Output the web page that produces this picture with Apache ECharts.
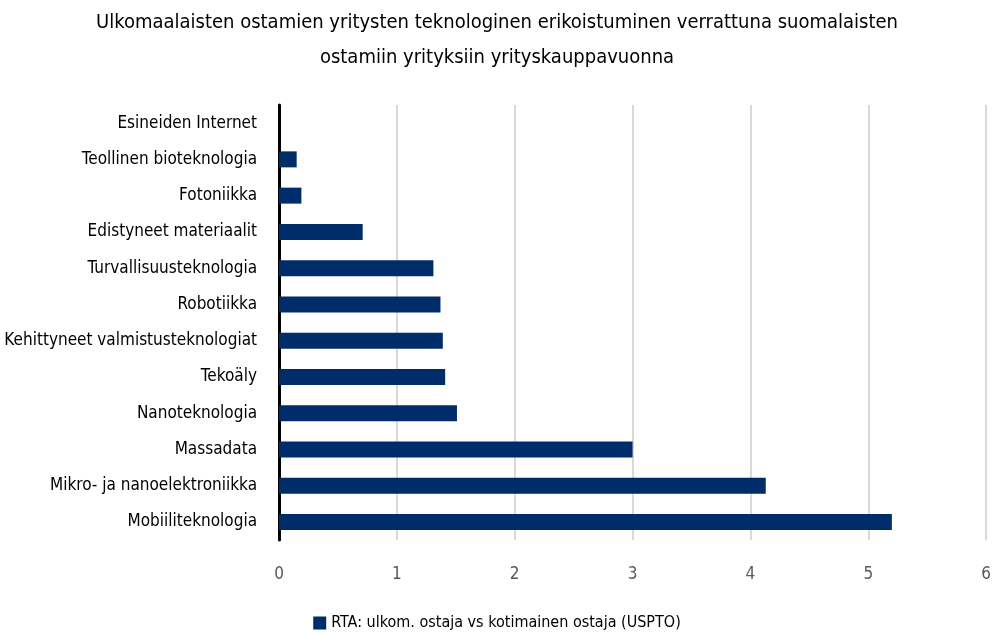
<!DOCTYPE html>
<html>
<head>
<meta charset="utf-8">
<script src="https://cdn.jsdelivr.net/npm/echarts@6/dist/echarts.min.js"></script>
<style>
    html, body {margin: 0; padding: 0; background: #fff;}
    #chart {width: 994px; height: 636px;}
</style>
</head>
<body>
<div id="chart"></div>
<script>
// categories bottom-to-top (ECharts category axis starts at the bottom)
const categories = [
    'Mobiiliteknologia',
    'Mikro- ja nanoelektroniikka',
    'Massadata',
    'Nanoteknologia',
    'Tekoäly',
    'Kehittyneet valmistusteknologiat',
    'Robotiikka',
    'Turvallisuusteknologia',
    'Edistyneet materiaalit',
    'Fotoniikka',
    'Teollinen bioteknologia',
    'Esineiden Internet'
];
const rtaValues = [5.2, 4.13, 3.0, 1.51, 1.41, 1.39, 1.37, 1.31, 0.71, 0.19, 0.15, 0];
const seriesName = 'RTA: ulkom. ostaja vs kotimainen ostaja (USPTO)';
const titleText = 'Ulkomaalaisten ostamien yritysten teknologinen erikoistuminen verrattuna suomalaisten\nostamiin yrityksiin yrityskauppavuonna';

const font = "'Liberation Sans Narrow', 'DejaVu Sans Condensed', 'Roboto', sans-serif";

const chart = echarts.init(document.getElementById('chart'));

const option = {
    backgroundColor: '#fff',
    animation: false,
    textStyle: {fontFamily: font},
    title: {
        text: titleText,
        left: 'center',
        top: 0,
        textStyle: {
            fontFamily: font,
            fontSize: 20,
            fontWeight: 'normal',
            color: '#000',
            lineHeight: 35
        }
    },
    legend: {
        bottom: 0,
        left: 'center',
        icon: 'rect',
        itemWidth: 13,
        itemHeight: 13,
        itemGap: 6,
        textStyle: {fontFamily: font, fontSize: 16, color: '#000'},
        data: [seriesName]
    },
    grid: {
        left: 279,
        right: 7,
        top: 105,
        bottom: 96
    },
    xAxis: {
        type: 'value',
        min: 0,
        max: 6,
        interval: 1,
        axisLine: {show: false},
        axisTick: {show: false},
        axisLabel: {fontFamily: font, fontSize: 17, color: '#595959', margin: 26},
        splitLine: {lineStyle: {color: '#d9d9d9', width: 2}}
    },
    yAxis: {
        type: 'category',
        data: categories,
        axisLine: {lineStyle: {color: '#000', width: 3}},
        axisTick: {show: false},
        axisLabel: {fontFamily: font, fontSize: 17, color: '#000', margin: 22}
    },
    series: [{
        name: seriesName,
        type: 'bar',
        data: rtaValues,
        barWidth: 16,
        itemStyle: {color: '#002d69'}
    }]
};

chart.setOption(option);
</script>
</body>
</html>
